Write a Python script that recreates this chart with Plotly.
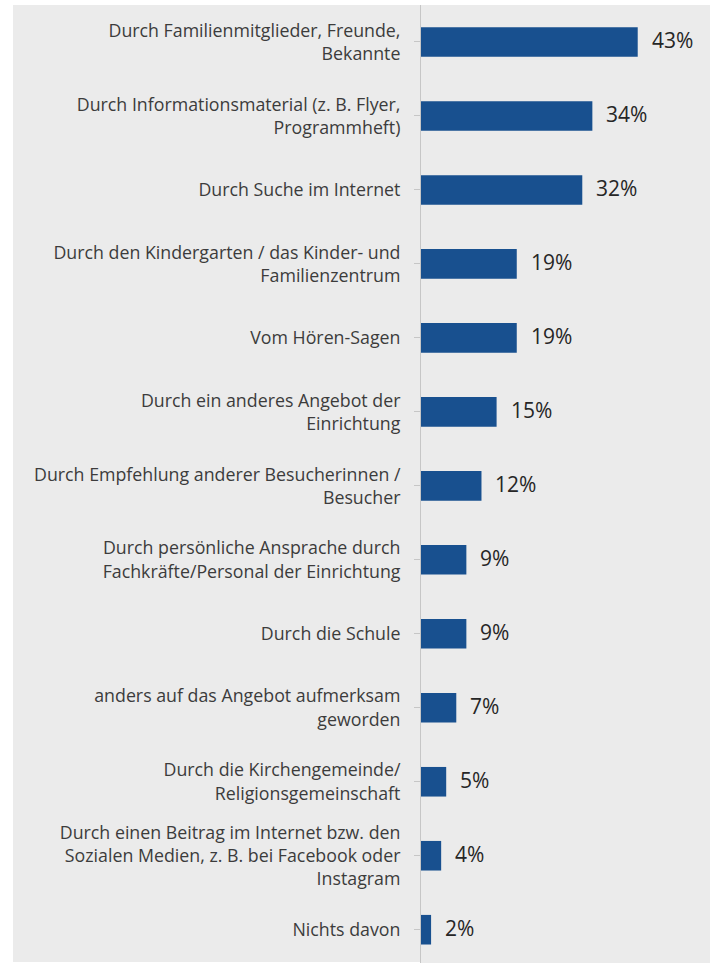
import plotly.graph_objects as go

categories = [
    "Durch Familienmitglieder, Freunde,<br>Bekannte",
    "Durch Informationsmaterial (z. B. Flyer,<br>Programmheft)",
    "Durch Suche im Internet",
    "Durch den Kindergarten / das Kinder- und<br>Familienzentrum",
    "Vom Hören-Sagen",
    "Durch ein anderes Angebot der<br>Einrichtung",
    "Durch Empfehlung anderer Besucherinnen /<br>Besucher",
    "Durch persönliche Ansprache durch<br>Fachkräfte/Personal der Einrichtung",
    "Durch die Schule",
    "anders auf das Angebot aufmerksam<br>geworden",
    "Durch die Kirchengemeinde/<br>Religionsgemeinschaft",
    "Durch einen Beitrag im Internet bzw. den<br>Sozialen Medien, z. B. bei Facebook oder<br>Instagram",
    "Nichts davon",
]
values = [43, 34, 32, 19, 19, 15, 12, 9, 9, 7, 5, 4, 2]
value_labels = [f"{v}%" for v in values]

BAR = "#18508f"
BG = "#ebebeb"
FONT = "Open Sans, Arial, sans-serif"

fig = go.Figure(go.Bar(
    x=values, y=categories, orientation="h",
    marker=dict(color=BAR, line=dict(width=0)),
    width=0.4, hoverinfo="skip",
))

for v, c, t in zip(values, categories, value_labels):
    fig.add_annotation(x=v, y=c, text=t, showarrow=False, xanchor="left",
                       xshift=12, yshift=2,
                       font=dict(family=FONT, size=21, color="#262626"))

W, H = 710, 963
ml, mr, mt, mb = 421, 0, 5, 0
pw = W - ml - mr
ph = H - mt - mb

fig.add_shape(type="rect", xref="paper", yref="paper",
              x0=(13 - ml) / pw, x1=1, y0=(H - 962 - mb) / ph, y1=(H - mt) / ph,
              fillcolor=BG, line=dict(width=0), layer="below")

fig.update_layout(
    width=W, height=H,
    margin=dict(l=ml, r=mr, t=mt, b=mb, pad=0),
    paper_bgcolor="white", plot_bgcolor=BG,
    showlegend=False,
    xaxis=dict(range=[0, pw / 5.04], visible=False, fixedrange=True),
    yaxis=dict(
        categoryorder="array", categoryarray=categories,
        range=[12.45, -0.5],
        showline=True, linecolor="#c6c6c6", linewidth=1,
        ticks="outside", ticklen=6, tickcolor="#c6c6c6", tickwidth=1,
        ticklabelstandoff=10,
        tickfont=dict(family=FONT, size=17.8, color="#3c3c3c"),
        showgrid=False, zeroline=False, fixedrange=True,
    ),
)

fig.write_html("out.html")
